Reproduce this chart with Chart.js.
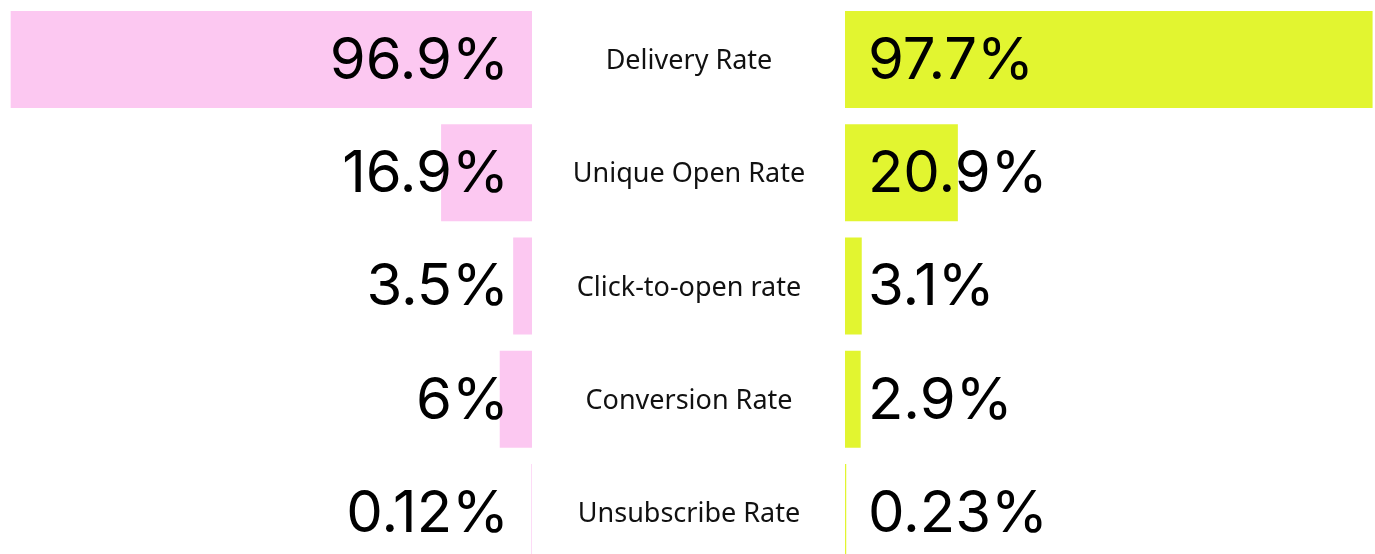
<!DOCTYPE html>
<html>
<head>
<meta charset="utf-8">
<script src="https://cdn.jsdelivr.net/npm/chart.js@4/dist/chart.umd.min.js"></script>
<style>
  html, body { margin: 0; padding: 0; background: #fff; }
  #wrap { position: relative; width: 1375px; height: 554px; overflow: hidden; }
  #leftChart { position: absolute; left: -6px; top: 3px; }
  #rightChart { position: absolute; left: 845px; top: 3px; }
</style>
</head>
<body>
<div id="wrap">
  <canvas id="leftChart" width="851" height="566"></canvas>
  <canvas id="rightChart" width="540" height="566"></canvas>
</div>
<script>
// data
const categories = ["Delivery Rate", "Unique Open Rate", "Click-to-open rate", "Conversion Rate", "Unsubscribe Rate"];
const leftValues = [96.9, 16.9, 3.5, 6, 0.12];
const rightValues = [97.7, 20.9, 3.1, 2.9, 0.23];
const leftLabels = ["96.9%", "16.9%", "3.5%", "6%", "0.12%"];
const rightLabels = ["97.7%", "20.9%", "3.1%", "2.9%", "0.23%"];

const pink = "#fcc8f1";
const lime = "#e2f530";
const valueFont = "400 58px Inter, 'Noto Sans', sans-serif";
const catFont = "400 27px 'Noto Sans', Lato, sans-serif";

/////////////////////////////////////////////////////////////////
// value labels + category labels
const valueLabels = {
  id: "valueLabels",
  afterDatasetsDraw(chart, args, opts) {
    const ctx = chart.ctx;
    const area = chart.chartArea;
    const yScale = chart.scales.y;
    ctx.save();
    ctx.fillStyle = "#000";
    ctx.textBaseline = "middle";
    ctx.font = valueFont;
    opts.labels.forEach((txt, i) => {
      const y = yScale.getPixelForValue(i);
      if (opts.side === "left") {
        ctx.textAlign = "right";
        ctx.fillText(txt, area.right - 23, y + 2);
      } else {
        ctx.textAlign = "left";
        ctx.fillText(txt, area.left + 23, y + 2);
      }
    });
    // category names sit in the padding on the right of the left chart
    if (opts.side === "left") {
      ctx.font = catFont;
      ctx.textAlign = "center";
      ctx.fillStyle = "#111";
      categories.forEach((c, i) => {
        ctx.fillText(c, area.right + 157, yScale.getPixelForValue(i) + 2);
      });
    }
    ctx.restore();
  }
};

const baseOptions = {
  responsive: false,
  animation: false,
  indexAxis: "y",
  plugins: { legend: { display: false }, tooltip: { enabled: false } },
};

new Chart(document.getElementById("leftChart").getContext("2d"), {
  type: "bar",
  data: {
    labels: categories,
    datasets: [{
      data: leftValues,
      backgroundColor: pink,
      borderWidth: 0,
      categoryPercentage: 0.857,
      barPercentage: 1
    }]
  },
  options: {
    ...baseOptions,
    layout: { padding: { left: 0, right: 313, top: 0, bottom: 0 } },
    scales: {
      x: { display: false, min: 0, max: 100, reverse: true },
      y: { display: false }
    },
    plugins: { ...baseOptions.plugins, valueLabels: { side: "left", labels: leftLabels } }
  },
  plugins: [valueLabels]
});

new Chart(document.getElementById("rightChart").getContext("2d"), {
  type: "bar",
  data: {
    labels: categories,
    datasets: [{
      data: rightValues,
      backgroundColor: lime,
      borderWidth: 0,
      categoryPercentage: 0.857,
      barPercentage: 1
    }]
  },
  options: {
    ...baseOptions,
    layout: { padding: 0 },
    scales: {
      x: { display: false, min: 0, max: 100 },
      y: { display: false }
    },
    plugins: { ...baseOptions.plugins, valueLabels: { side: "right", labels: rightLabels } }
  },
  plugins: [valueLabels]
});
</script>
</body>
</html>
